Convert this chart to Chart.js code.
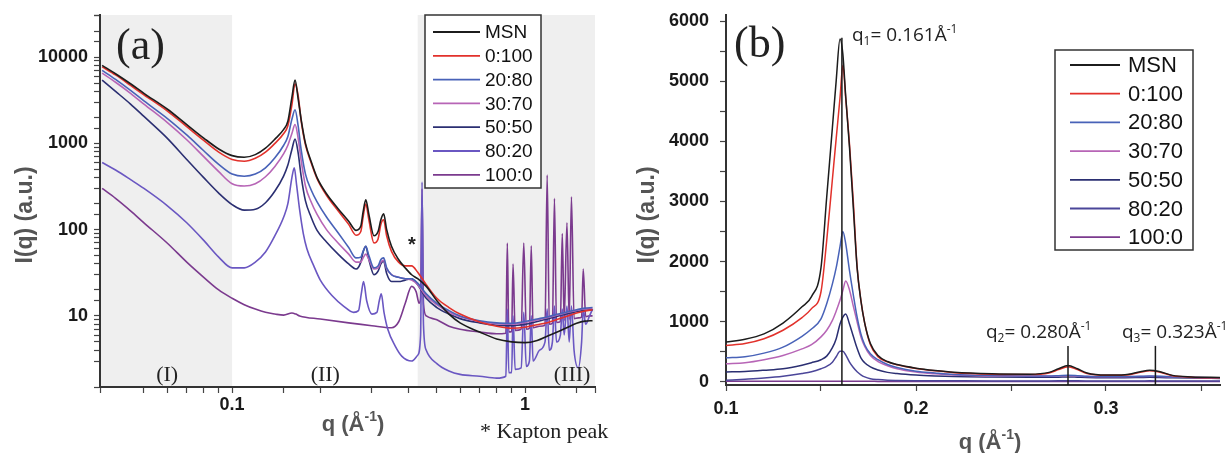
<!DOCTYPE html>
<html>
<head>
<meta charset="utf-8">
<script src="https://cdn.jsdelivr.net/npm/chart.js@4.4.1/dist/chart.umd.min.js"></script>
<style>
  html, body { margin: 0; padding: 0; background: #fff; }
  #wrap { position: relative; width: 1227px; height: 453px; overflow: hidden; }
  #chartA { position: absolute; left: 0; top: 0; }
  #chartB { position: absolute; left: 620px; top: 0; }
</style>
</head>
<body>
<div id="wrap">
  <canvas id="chartA" width="620" height="453"></canvas>
  <canvas id="chartB" width="607" height="453"></canvas>
</div>
<script>
const seriesNames = ["MSN", "0:100", "20:80", "30:70", "50:50", "80:20", "100:0"];
const seriesColors = ["#1c1c1c", "#e2312b", "#4862b8", "#b765b6", "#2b2f72", "#6a57c2", "#7b3a8e"];
const seriesColorsB = ["#1c1c1c", "#e2312b", "#4862b8", "#b765b6", "#2b2f72", "#4b4699", "#7b3a8e"];

// panel (a): log-log, q in 1/A
const qA = [0.036, 0.04, 0.045, 0.05, 0.06, 0.07, 0.08, 0.09, 0.1, 0.11, 0.12, 0.13, 0.14, 0.15, 0.155,
  0.16, 0.164, 0.168, 0.172, 0.178, 0.186, 0.195, 0.21, 0.23, 0.25, 0.265, 0.275, 0.28, 0.286, 0.293,
  0.305, 0.315, 0.322, 0.329, 0.337, 0.35, 0.37, 0.39, 0.41, 0.43, 0.46, 0.5, 0.55, 0.6, 0.7,
  0.8, 0.9, 1.0, 1.1, 1.2, 1.3, 1.4, 1.5, 1.6, 1.7];
const aMSN = [8000, 6400, 4900, 3800, 2500, 1650, 1150, 860, 720, 690, 740, 880, 1120, 1450, 1800,
  3400, 5400, 3300, 1900, 1000, 620, 400, 260, 175, 125, 98, 110, 160, 222, 150,
  85, 95, 130, 152, 100, 64, 45, 36, 30, 27, 22, 15, 10.5, 8.3, 6.5,
  5.4, 5.0, 4.9, 5.2, 5.9, 6.6, 7.4, 8.2, 8.7, 8.8];
const a0100 = [7700, 6200, 4700, 3650, 2380, 1560, 1080, 790, 650, 620, 670, 790, 1000, 1300, 1600,
  2800, 4900, 3600, 1850, 960, 600, 390, 250, 165, 115, 86, 95, 140, 198, 130,
  70, 78, 115, 130, 85, 56, 42, 38, 38, 32, 23, 16, 12.5, 10.5, 8.5,
  7.6, 7.2, 7.4, 7.9, 8.4, 9.2, 10.0, 10.8, 11.4, 11.8];
const a2080 = [7000, 5500, 4100, 3100, 1950, 1250, 820, 570, 440, 415, 440, 520, 680, 950, 1200,
  1900, 2450, 1600, 850, 440, 290, 210, 140, 92, 62, 47, 48, 56, 64, 50,
  36, 38, 45, 47, 36, 30, 28, 27, 27, 24, 18, 14, 11.5, 10, 8.8,
  8.3, 8.2, 8.6, 9.2, 9.8, 10.5, 11.2, 11.8, 12.3, 12.5];
const a3070 = [6500, 5100, 3800, 2850, 1750, 1100, 700, 470, 340, 320, 340, 410, 540, 760, 950,
  1300, 1650, 1150, 640, 320, 210, 150, 100, 70, 52, 42, 42, 47, 52, 45,
  35, 36, 42, 44, 35, 30, 28, 27, 26, 23, 17, 13.5, 11, 9.8, 8.6,
  8.1, 8.0, 8.4, 9.0, 9.6, 10.3, 11.0, 11.6, 12.0, 12.2];
const a5050 = [5400, 4000, 2850, 2050, 1150, 650, 400, 265, 195, 168, 172, 205, 280, 420, 560,
  850, 1120, 780, 420, 215, 140, 98, 72, 52, 40, 35, 42, 55, 64, 45,
  30, 33, 40, 43, 31, 25, 25, 26, 27, 23, 16, 12.5, 10.5, 9.3, 8.3,
  7.8, 7.7, 8.0, 8.6, 9.3, 10.0, 10.7, 11.2, 11.6, 11.8];

// 80:20 and 100:0 have the sharp peaks, so they get their own q points
const qA80 = [0.036, 0.04, 0.045, 0.05, 0.06, 0.07, 0.08, 0.09, 0.1, 0.11, 0.12, 0.13, 0.14,
  0.15, 0.155, 0.16, 0.163, 0.166, 0.17, 0.175, 0.18, 0.19, 0.2, 0.22, 0.24, 0.26, 0.27, 0.276,
  0.281, 0.288, 0.3, 0.312, 0.318, 0.323, 0.33, 0.34, 0.36, 0.38, 0.41, 0.43, 0.44, 0.445, 0.45,
  0.46, 0.5, 0.55, 0.6, 0.7, 0.8, 0.86, 0.87, 0.88, 0.9, 0.91, 0.925, 0.97, 0.99, 1.01,
  1.035, 1.05, 1.065, 1.12, 1.17, 1.19, 1.21, 1.24, 1.26, 1.28, 1.32, 1.34, 1.36, 1.39, 1.415,
  1.44, 1.47, 1.52, 1.56, 1.58, 1.61, 1.66, 1.7];
const a8020 = [600, 490, 380, 300, 190, 120, 75, 48, 36, 36, 42, 55, 85,
  140, 200, 400, 520, 330, 170, 90, 60, 38, 26, 17, 13, 11, 11.5, 18,
  25, 15, 10.5, 11, 15, 18, 11, 7, 4.5, 3.4, 3.0, 3.5, 6, 356, 8,
  4, 2.8, 2.3, 2.1, 2.0, 1.9, 2.0, 12, 2.2, 2.2, 10, 2.4, 2.5, 11, 2.6,
  3, 10, 3, 4, 5, 12, 4, 5, 13, 5, 6, 12, 6, 13, 5,
  13, 4, 2.5, 5, 12, 8, 10, 12];
const qA100 = [0.036, 0.04, 0.045, 0.05, 0.06, 0.07, 0.08, 0.09, 0.1, 0.11, 0.12, 0.13, 0.14,
  0.15, 0.16, 0.165, 0.17, 0.2, 0.25, 0.3, 0.35, 0.37, 0.39, 0.41, 0.425, 0.435, 0.44, 0.445,
  0.45, 0.46, 0.5, 0.55, 0.6, 0.7, 0.8, 0.86, 0.87, 0.88, 0.9, 0.91, 0.925, 0.97, 0.99,
  1.01, 1.035, 1.05, 1.065, 1.12, 1.17, 1.19, 1.21, 1.24, 1.26, 1.28, 1.32, 1.34, 1.36, 1.39,
  1.415, 1.44, 1.47, 1.52, 1.56, 1.58, 1.61, 1.66, 1.7];
const a1000 = [300, 230, 165, 120, 70, 42, 28, 20, 16, 13.5, 12, 11, 10.5,
  10.2, 10.8, 10.5, 10, 9.2, 8.3, 7.7, 7.3, 8.5, 14, 22, 19, 14, 16, 300,
  14, 10, 9, 7.6, 7, 6.5, 6.2, 6.3, 70, 6.5, 6.6, 40, 6.8, 7, 70,
  7, 7.2, 65, 7.3, 7.6, 7.8, 430, 8, 8.2, 230, 8.4, 8.6, 90, 8.8, 120,
  9, 240, 9.3, 9.5, 9.7, 35, 9.8, 10, 10];

// panel (b): linear zoom on the first peaks
const qB = [0.1, 0.11, 0.12, 0.13, 0.14, 0.145, 0.15, 0.153, 0.156, 0.158, 0.16, 0.1615, 0.163, 0.165,
  0.167, 0.169, 0.171, 0.173, 0.176, 0.18, 0.185, 0.19, 0.2, 0.21, 0.22, 0.24, 0.26, 0.27, 0.275,
  0.28, 0.285, 0.29, 0.3, 0.31, 0.318, 0.323, 0.328, 0.335, 0.345, 0.36];
const bMSN = [665, 710, 800, 980, 1250, 1420, 1900, 3070, 4230, 5010, 5700, 5450, 4750, 3900,
  2900, 1900, 1350, 980, 640, 440, 340, 290, 230, 190, 160, 135, 130, 160, 220,
  275, 220, 150, 115, 120, 170, 195, 175, 110, 85, 75];
const b0100 = [606, 640, 720, 860, 1070, 1220, 1500, 2350, 3370, 4050, 4720, 5260, 4720, 3950,
  3000, 1911, 1357, 980, 620, 420, 335, 285, 225, 185, 155, 130, 125, 150, 205,
  255, 205, 140, 110, 115, 160, 185, 165, 105, 80, 70];
const b2080 = [402, 420, 480, 580, 760, 880, 1050, 1300, 1630, 1900, 2250, 2500, 2300, 1850,
  1450, 1080, 800, 620, 470, 370, 290, 240, 180, 150, 125, 108, 100, 100, 105,
  112, 105, 95, 90, 90, 95, 98, 95, 85, 78, 70];
const b3070 = [303, 320, 370, 440, 550, 620, 750, 860, 1025, 1180, 1357, 1520, 1680, 1530,
  1260, 1000, 750, 590, 440, 340, 270, 220, 165, 135, 115, 100, 95, 95, 100,
  105, 100, 92, 88, 88, 92, 95, 92, 82, 76, 68];
const b5050 = [166, 175, 195, 220, 280, 320, 370, 430, 570, 720, 964, 1080, 1130, 964,
  760, 560, 400, 320, 250, 200, 160, 140, 115, 100, 90, 82, 78, 78, 80,
  85, 80, 75, 72, 72, 75, 77, 75, 70, 65, 60];
const b8020 = [28, 45, 65, 94, 140, 170, 220, 260, 330, 420, 510, 510, 450, 330,
  240, 170, 120, 85, 55, 40, 30, 26, 22, 20, 19, 18, 18, 18, 19,
  22, 19, 18, 17, 17, 18, 19, 18, 17, 16, 15];
const b1000 = [12, 12, 12, 11, 11, 11, 11, 11, 11, 11, 12, 12, 12, 11,
  11, 11, 11, 11, 11, 10, 10, 10, 10, 10, 10, 9, 9, 9, 9,
  9, 9, 9, 9, 9, 9, 9, 9, 9, 9, 9];

const xLabelsA = [0.1, 1];
const yLabelsA = [10, 100, 1000, 10000];
const xTicksB = [0.1, 0.15, 0.2, 0.25, 0.3, 0.35];
const xLabelsB = [0.1, 0.2, 0.3];
const yTicksB = [0, 500, 1000, 1500, 2000, 2500, 3000, 3500, 4000, 4500, 5000, 5500, 6000];
const yLabelsB = [0, 1000, 2000, 3000, 4000, 5000, 6000];
const shadeA = [[0.0354, 0.1], [0.43, 1.733]];
const regionNames = ["(I)", "(II)", "(III)"];
const regionQ = [0.06, 0.208, 1.447];
const peakQ = [0.161, 0.28, 0.326];
const peakTop = [5720, 600, 600];

const tickFont = { family: "'Liberation Sans', Arial, sans-serif", size: 18, weight: "bold" };
const SANS = "'Liberation Sans', Arial, sans-serif";
const SERIF = "'Liberation Serif', 'Times New Roman', serif";

function labelFor(v, list) {
  const hit = list.find((t) => Math.abs(t - v) < 1e-6 * Math.max(1, Math.abs(t)));
  return hit === undefined ? "" : String(hit);
}

function pts(qs, vals) {
  return qs.map((q, i) => ({ x: q, y: vals[i] }));
}

function makeSets(lists, colors, width) {
  return lists.map(([qs, vals], i) => ({
    label: seriesNames[i],
    data: pts(qs, vals),
    borderColor: colors[i],
    borderWidth: width,
    pointRadius: 0,
    fill: false,
    cubicInterpolationMode: "monotone",
  }));
}

function richText(ctx, parts, x, y, size, family, weight, align) {
  const fontFor = (p) => `${weight} ${p.sub || p.sup ? Math.round(size * 0.62) : size}px ${family}`;
  let w = 0;
  parts.forEach((p) => { ctx.font = fontFor(p); w += ctx.measureText(p.t).width; });
  let cx = align === "center" ? x - w / 2 : x;
  ctx.textAlign = "left";
  ctx.textBaseline = "middle";
  parts.forEach((p) => {
    ctx.font = fontFor(p);
    const dy = p.sub ? size * 0.3 : p.sup ? -size * 0.35 : 0;
    ctx.fillText(p.t, cx, y + dy);
    cx += ctx.measureText(p.t).width;
  });
}

function yTitle(ctx, x, y) {
  ctx.save();
  ctx.translate(x, y);
  ctx.rotate(-Math.PI / 2);
  ctx.fillStyle = "#555";
  ctx.font = `bold 23px ${SANS}`;
  ctx.textAlign = "center";
  ctx.textBaseline = "middle";
  ctx.fillText("I(q) (a.u.)", 0, 0);
  ctx.restore();
}

function drawLegend(ctx, colors, box, rowTop, rowGap, lineX, textX, size) {
  ctx.fillStyle = "#fff";
  ctx.fillRect(box[0], box[1], box[2], box[3]);
  ctx.strokeStyle = "#333";
  ctx.lineWidth = 1.5;
  ctx.strokeRect(box[0], box[1], box[2], box[3]);
  seriesNames.forEach((n, i) => {
    const y = rowTop + i * rowGap;
    ctx.strokeStyle = colors[i];
    ctx.lineWidth = 1.8;
    ctx.beginPath();
    ctx.moveTo(lineX[0], y);
    ctx.lineTo(lineX[1], y);
    ctx.stroke();
    ctx.fillStyle = "#111";
    ctx.font = `${size}px ${SANS}`;
    ctx.textAlign = "left";
    ctx.textBaseline = "middle";
    ctx.fillText(n, textX, y + 1);
  });
}

const decorA = {
  id: "decorA",
  beforeDraw(chart) {
    const { ctx, chartArea: ca, scales } = chart;
    ctx.save();
    ctx.fillStyle = "#fff";
    ctx.fillRect(0, 0, chart.width, chart.height);
    ctx.fillStyle = "#efefef";
    shadeA.forEach(([a, b]) => {
      const x1 = scales.x.getPixelForValue(a);
      const x2 = scales.x.getPixelForValue(b);
      ctx.fillRect(x1, ca.top, x2 - x1, ca.bottom - ca.top);
    });
    ctx.restore();
  },
  afterDraw(chart) {
    const { ctx, scales } = chart;
    ctx.save();
    ctx.fillStyle = "#222";
    ctx.font = `44px ${SERIF}`;
    ctx.textAlign = "left";
    ctx.textBaseline = "middle";
    ctx.fillText("(a)", 116, 47);
    ctx.font = `22px ${SERIF}`;
    ctx.textAlign = "center";
    regionNames.forEach((t, i) => {
      ctx.fillText(t, scales.x.getPixelForValue(regionQ[i]), 375);
    });
    ctx.font = `bold 20px ${SANS}`;
    ctx.fillText("*", scales.x.getPixelForValue(0.411), scales.y.getPixelForValue(66));
    ctx.font = `22px ${SERIF}`;
    ctx.textAlign = "left";
    ctx.fillText("* Kapton peak", 480, 432);
    drawLegend(ctx, seriesColors, [425, 15, 116, 173], 32, 23.8, [433, 480], 485, 19);
    yTitle(ctx, 26, 215);
    ctx.fillStyle = "#555";
    richText(ctx, [{ t: "q (Å" }, { t: "-1", sup: true }, { t: ")" }], 353, 425, 22, SANS, "bold", "center");
    ctx.restore();
  },
};

const decorB = {
  id: "decorB",
  beforeDraw(chart) {
    const { ctx } = chart;
    ctx.save();
    ctx.fillStyle = "#fff";
    ctx.fillRect(0, 0, chart.width, chart.height);
    ctx.restore();
  },
  afterDatasetsDraw(chart) {
    const { ctx, chartArea: ca, scales } = chart;
    ctx.save();
    ctx.strokeStyle = "#1a1a1a";
    ctx.lineWidth = 1.5;
    peakQ.forEach((q, i) => {
      const x = scales.x.getPixelForValue(q);
      ctx.beginPath();
      ctx.moveTo(x, ca.bottom);
      ctx.lineTo(x, scales.y.getPixelForValue(peakTop[i]));
      ctx.stroke();
    });
    ctx.restore();
  },
  afterDraw(chart) {
    const { ctx } = chart;
    ctx.save();
    ctx.fillStyle = "#222";
    ctx.font = `44px ${SERIF}`;
    ctx.textAlign = "left";
    ctx.textBaseline = "middle";
    ctx.fillText("(b)", 114, 45);
    ctx.fillStyle = "#222";
    richText(ctx, [{ t: "q" }, { t: "1", sub: true }, { t: "= 0.161Å" }, { t: "-1", sup: true }], 232, 36, 19, "'Open Sans', sans-serif", "normal", "left");
    richText(ctx, [{ t: "q" }, { t: "2", sub: true }, { t: "= 0.280Å" }, { t: "-1", sup: true }], 366, 333, 19, "'Open Sans', sans-serif", "normal", "left");
    richText(ctx, [{ t: "q" }, { t: "3", sub: true }, { t: "= 0.323Å" }, { t: "-1", sup: true }], 502, 333, 19, "'Open Sans', sans-serif", "normal", "left");
    drawLegend(ctx, seriesColorsB, [435, 50, 138, 200], 65, 28.7, [450, 500], 508, 22);
    yTitle(ctx, 28, 215);
    ctx.fillStyle = "#555";
    richText(ctx, [{ t: "q (Å" }, { t: "-1", sup: true }, { t: ")" }], 370, 443, 22, SANS, "bold", "center");
    ctx.restore();
  },
};

function axisCommon(extra) {
  return Object.assign({
    border: { color: "#333", width: 2 },
    grid: { display: true, drawOnChartArea: false, drawTicks: true, tickLength: 6, color: "#444", tickWidth: 1.2 },
  }, extra);
}

// pin the plot area: fixed axis sizes and no extra room for edge labels
function fixX(h) {
  return (s) => { s.height = h; s.paddingLeft = 0; s.paddingRight = 0; };
}
function fixY(w) {
  return (s) => { s.width = w; s.paddingTop = 0; s.paddingBottom = 0; };
}

new Chart(document.getElementById("chartA").getContext("2d"), {
  type: "line",
  data: {
    datasets: makeSets([[qA, aMSN], [qA, a0100], [qA, a2080], [qA, a3070], [qA, a5050], [qA80, a8020], [qA100, a1000]], seriesColors, 1.6),
  },
  options: {
    responsive: false,
    animation: false,
    events: [],
    layout: { padding: { left: 0, right: 25, top: 15, bottom: 0 } },
    scales: {
      x: axisCommon({
        type: "logarithmic",
        min: 0.0354,
        max: 1.733,
        afterFit: fixX(66),
        ticks: { autoSkip: false, maxRotation: 0, padding: 1, color: "#1a1a1a", font: tickFont, callback: (v) => labelFor(v, xLabelsA) },
      }),
      y: axisCommon({
        type: "logarithmic",
        min: 1.5,
        max: 30700,
        afterFit: fixY(100),
        ticks: { autoSkip: false, padding: 6, color: "#1a1a1a", font: tickFont, callback: (v) => labelFor(v, yLabelsA) },
      }),
    },
    plugins: { legend: { display: false }, tooltip: { enabled: false } },
  },
  plugins: [decorA],
});

new Chart(document.getElementById("chartB").getContext("2d"), {
  type: "line",
  data: {
    datasets: makeSets([[qB, bMSN], [qB, b0100], [qB, b2080], [qB, b3070], [qB, b5050], [qB, b8020], [qB, b1000]], seriesColorsB, 1.5),
  },
  options: {
    responsive: false,
    animation: false,
    events: [],
    layout: { padding: { left: 0, right: 7, top: 15, bottom: 0 } },
    scales: {
      x: axisCommon({
        type: "linear",
        min: 0.1,
        max: 0.36,
        afterFit: fixX(68),
        afterBuildTicks: (s) => { s.ticks = xTicksB.map((v) => ({ value: v })); },
        ticks: { autoSkip: false, maxRotation: 0, padding: 7, color: "#1a1a1a", font: tickFont, callback: (v) => labelFor(v, xLabelsB) },
      }),
      y: axisCommon({
        type: "linear",
        min: -50,
        max: 6100,
        afterFit: fixY(106),
        afterBuildTicks: (s) => { s.ticks = yTicksB.map((v) => ({ value: v })); },
        ticks: { autoSkip: false, padding: 11, color: "#1a1a1a", font: tickFont, callback: (v) => labelFor(v, yLabelsB) },
      }),
    },
    plugins: { legend: { display: false }, tooltip: { enabled: false } },
  },
  plugins: [decorB],
});
</script>
</body>
</html>
